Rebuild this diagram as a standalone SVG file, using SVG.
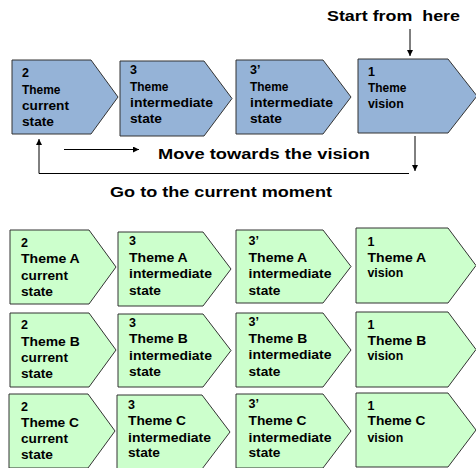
<svg xmlns="http://www.w3.org/2000/svg" width="476" height="468" viewBox="0 0 476 468">
<style>
.blue{fill:#95B3D7;stroke:#333;stroke-width:1}
.green{fill:#CCFFCC;stroke:#333;stroke-width:1}
text{font-family:"Liberation Sans",Arial,sans-serif;font-weight:bold;fill:#000}
.t{font-size:12.5px}
.lbl{font-size:14px;white-space:pre}
.ln{stroke:#000;stroke-width:1;fill:none}
</style>
<defs>
<marker id="ah" viewBox="0 0 6 6" refX="6" refY="3" markerWidth="6" markerHeight="6" markerUnits="userSpaceOnUse" orient="auto">
<path d="M0,0 L6,3 L0,6 Z" fill="#000"/>
</marker>
</defs>
<g id="connectors">
<line class="ln" x1="410" y1="29" x2="410" y2="56" marker-end="url(#ah)"/>
<line class="ln" x1="415" y1="136" x2="415" y2="171" marker-end="url(#ah)"/>
<polyline class="ln" points="409,173.5 39,173.5 39,139" marker-end="url(#ah)"/>
<line class="ln" x1="64" y1="149.5" x2="139" y2="149.5" marker-end="url(#ah)"/>
</g>
<g id="labels">
<text class="lbl" x="327" y="20.5" style="font-size:15px" textLength="133" lengthAdjust="spacingAndGlyphs">Start from  here</text>
<text class="lbl" x="158" y="158.5" textLength="212" lengthAdjust="spacingAndGlyphs">Move towards the vision</text>
<text class="lbl" x="110" y="197" textLength="222" lengthAdjust="spacingAndGlyphs">Go to the current moment</text>
</g>
<g id="top1"><polygon class="blue" points="12,60 91,60 118,97 91,134 12,134"/>
<text class="t" x="22" y="76.5">2</text><text class="t" x="22" y="94" textLength="38.5" lengthAdjust="spacingAndGlyphs">Theme</text><text class="t" x="22" y="110" textLength="47" lengthAdjust="spacingAndGlyphs">current</text><text class="t" x="22" y="125.5" textLength="32" lengthAdjust="spacingAndGlyphs">state</text></g>
<g id="top2"><polygon class="blue" points="120,61 204,61 232,98.5 204,136 120,136"/>
<text class="t" x="130" y="74">3</text><text class="t" x="130" y="90.5" textLength="38.5" lengthAdjust="spacingAndGlyphs">Theme</text><text class="t" x="130" y="106.5" textLength="83" lengthAdjust="spacingAndGlyphs">intermediate</text><text class="t" x="130" y="123" textLength="32" lengthAdjust="spacingAndGlyphs">state</text></g>
<g id="top3"><polygon class="blue" points="236,60 323,60 351,97 323,134 236,134"/>
<text class="t" x="250" y="74">3’</text><text class="t" x="250" y="90.5" textLength="38.5" lengthAdjust="spacingAndGlyphs">Theme</text><text class="t" x="250" y="106.5" textLength="83" lengthAdjust="spacingAndGlyphs">intermediate</text><text class="t" x="250" y="123" textLength="32" lengthAdjust="spacingAndGlyphs">state</text></g>
<g id="top4"><polygon class="blue" points="358,59 448,59 477,96 448,133 358,133"/>
<text class="t" x="368" y="76">1</text><text class="t" x="368" y="92" textLength="38.5" lengthAdjust="spacingAndGlyphs">Theme</text><text class="t" x="368" y="108" textLength="35.7" lengthAdjust="spacingAndGlyphs">vision</text></g>

<g id="a1"><polygon class="green" points="10,230 89,230 116,267 89,304 10,304"/>
<text class="t" x="21" y="246.5">2</text><text class="t" x="21" y="263" textLength="58.7" lengthAdjust="spacingAndGlyphs">Theme A</text><text class="t" x="21" y="280" textLength="47" lengthAdjust="spacingAndGlyphs">current</text><text class="t" x="21" y="296" textLength="32" lengthAdjust="spacingAndGlyphs">state</text></g>
<g id="a2"><polygon class="green" points="118,232 203,232 231,269 203,306 118,306"/>
<text class="t" x="129" y="245">3</text><text class="t" x="129" y="261.5" textLength="58.7" lengthAdjust="spacingAndGlyphs">Theme A</text><text class="t" x="129" y="278" textLength="83" lengthAdjust="spacingAndGlyphs">intermediate</text><text class="t" x="129" y="295" textLength="32" lengthAdjust="spacingAndGlyphs">state</text></g>
<g id="a3"><polygon class="green" points="236,230 323,230 351,266.5 323,303 236,303"/>
<text class="t" x="248.5" y="245">3’</text><text class="t" x="248.5" y="261.5" textLength="58.7" lengthAdjust="spacingAndGlyphs">Theme A</text><text class="t" x="248.5" y="278" textLength="83" lengthAdjust="spacingAndGlyphs">intermediate</text><text class="t" x="248.5" y="295" textLength="32" lengthAdjust="spacingAndGlyphs">state</text></g>
<g id="a4"><polygon class="green" points="356,228 448,228 476,265.5 448,303 356,303"/>
<text class="t" x="367.5" y="246">1</text><text class="t" x="367.5" y="261.5" textLength="58.7" lengthAdjust="spacingAndGlyphs">Theme A</text><text class="t" x="367.5" y="276.5" textLength="35.7" lengthAdjust="spacingAndGlyphs">vision</text></g>

<g id="b1"><polygon class="green" points="10,313 89,313 116,350 89,387 10,387"/>
<text class="t" x="21" y="328.5">2</text><text class="t" x="21" y="346" textLength="58.7" lengthAdjust="spacingAndGlyphs">Theme B</text><text class="t" x="21" y="361.5" textLength="47" lengthAdjust="spacingAndGlyphs">current</text><text class="t" x="21" y="378" textLength="32" lengthAdjust="spacingAndGlyphs">state</text></g>
<g id="b2"><polygon class="green" points="118,314 203,314 231,350.5 203,387 118,387"/>
<text class="t" x="129" y="326.5">3</text><text class="t" x="129" y="342.5" textLength="58.7" lengthAdjust="spacingAndGlyphs">Theme B</text><text class="t" x="129" y="359.5" textLength="83" lengthAdjust="spacingAndGlyphs">intermediate</text><text class="t" x="129" y="376" textLength="32" lengthAdjust="spacingAndGlyphs">state</text></g>
<g id="b3"><polygon class="green" points="236,313 323,313 351,350 323,387 236,387"/>
<text class="t" x="248.5" y="326">3’</text><text class="t" x="248.5" y="342.5" textLength="58.7" lengthAdjust="spacingAndGlyphs">Theme B</text><text class="t" x="248.5" y="359" textLength="83" lengthAdjust="spacingAndGlyphs">intermediate</text><text class="t" x="248.5" y="376" textLength="32" lengthAdjust="spacingAndGlyphs">state</text></g>
<g id="b4"><polygon class="green" points="356,312 448,312 476,349.5 448,387 356,387"/>
<text class="t" x="367.5" y="329">1</text><text class="t" x="367.5" y="345" textLength="58.7" lengthAdjust="spacingAndGlyphs">Theme B</text><text class="t" x="367.5" y="360" textLength="35.7" lengthAdjust="spacingAndGlyphs">vision</text></g>

<g id="c1"><polygon class="green" points="9,394 88,394 115,431 88,468 9,468"/>
<text class="t" x="21" y="410.5">2</text><text class="t" x="21" y="426.5" textLength="58" lengthAdjust="spacingAndGlyphs">Theme C</text><text class="t" x="21" y="443" textLength="47" lengthAdjust="spacingAndGlyphs">current</text><text class="t" x="21" y="459" textLength="32" lengthAdjust="spacingAndGlyphs">state</text></g>
<g id="c2"><polygon class="green" points="117,395 202,395 230,432 202,469 117,469"/>
<text class="t" x="128" y="409">3</text><text class="t" x="128" y="425" textLength="58" lengthAdjust="spacingAndGlyphs">Theme C</text><text class="t" x="128" y="441.5" textLength="83" lengthAdjust="spacingAndGlyphs">intermediate</text><text class="t" x="128" y="457" textLength="32" lengthAdjust="spacingAndGlyphs">state</text></g>
<g id="c3"><polygon class="green" points="236,394 323,394 351,431 323,468 236,468"/>
<text class="t" x="248.5" y="408">3’</text><text class="t" x="248.5" y="425" textLength="58" lengthAdjust="spacingAndGlyphs">Theme C</text><text class="t" x="248.5" y="441.5" textLength="83" lengthAdjust="spacingAndGlyphs">intermediate</text><text class="t" x="248.5" y="457" textLength="32" lengthAdjust="spacingAndGlyphs">state</text></g>
<g id="c4"><polygon class="green" points="356,393 448,393 476,430 448,467 356,467"/>
<text class="t" x="367.5" y="410">1</text><text class="t" x="367.5" y="425" textLength="58" lengthAdjust="spacingAndGlyphs">Theme C</text><text class="t" x="367.5" y="441.5" textLength="35.7" lengthAdjust="spacingAndGlyphs">vision</text></g>
</svg>
